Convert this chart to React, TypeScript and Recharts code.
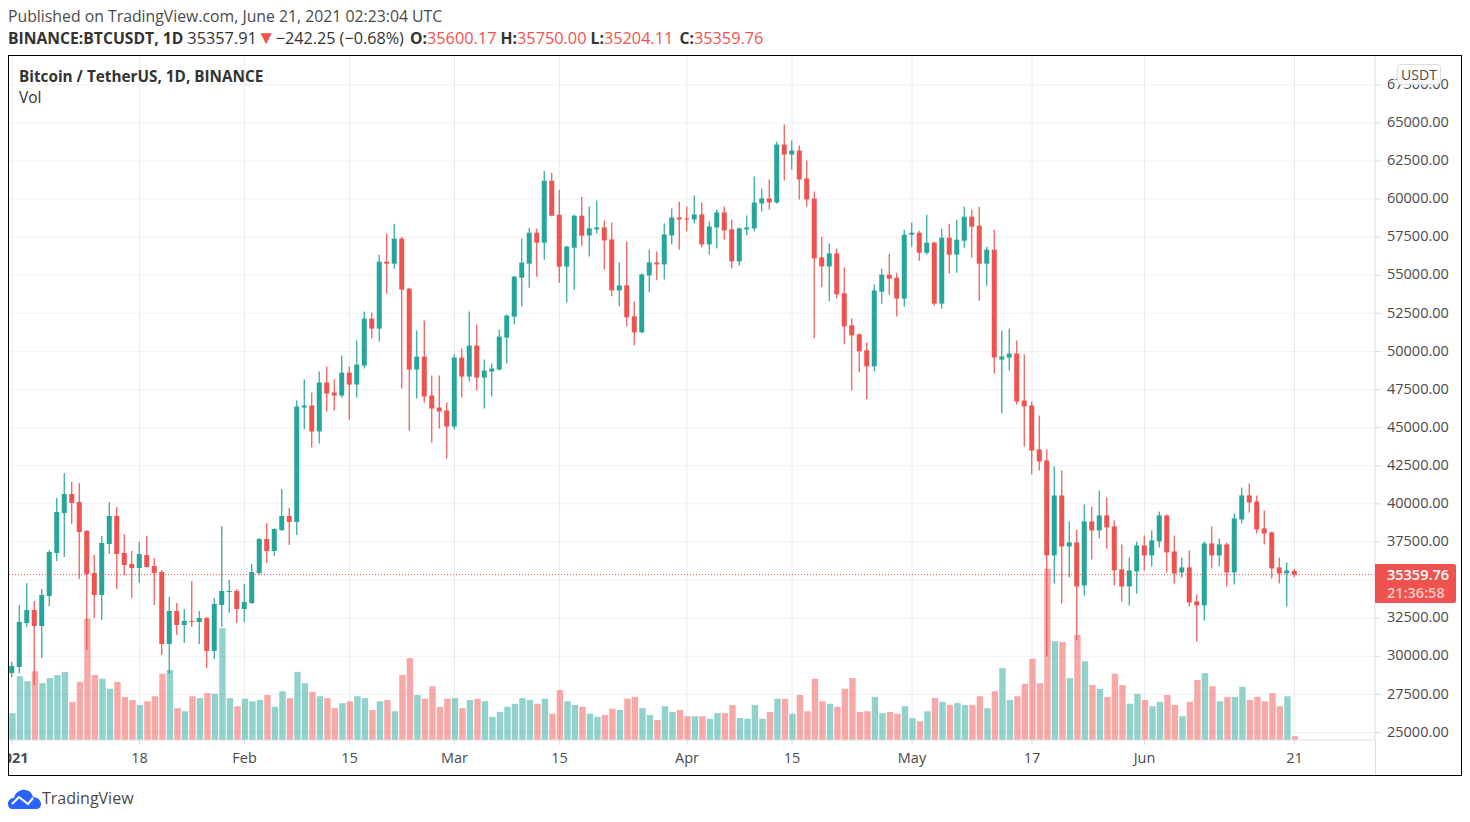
import React from 'react';
import { ComposedChart, Bar, Cell, XAxis, YAxis, CartesianGrid, ReferenceLine } from 'recharts';

const FONT = '"Open Sans", sans-serif';
const UP = '#26a69a';
const DOWN = '#ef5350';
const TEXT = '#4a4a4a';
const LAST_PRICE = 35359.76;

const opens = [
  28904, 29297, 32184, 33037, 31987, 33955, 36777, 39401, 40648, 40123,
  38220, 35465, 34021, 37367, 39204, 36777, 36055, 35793, 36645, 35924,
  35530, 30806, 32971, 32053, 32315, 32250, 32512, 30347, 33365, 34218,
  34284, 33102, 33496, 35465, 37695, 36908, 38286, 39204, 38811, 46322,
  46453, 44749, 47961, 47305, 47109, 48616, 47830, 49075, 52156, 51501,
  55892, 55761, 57400, 54122, 48813, 49665, 47109, 46322, 46126, 45077,
  49600, 48354, 50386, 48289, 48682, 48813, 50911, 52287, 54844, 55761,
  57793, 57138, 61202, 58973, 55565, 56810, 58908, 57614, 58008, 58139,
  57352, 54009, 54337, 52304, 51256, 54992, 55844, 55713, 57614, 58794,
  58728, 58663, 58991, 57024, 58139, 59122, 58008, 55910, 58008, 58073,
  59712, 60040, 59777, 63579, 62924, 63186, 61351, 60040, 56172, 55582,
  56434, 53812, 51715, 51125, 50076, 49027, 53925, 55040, 54843, 53467,
  57662, 57793, 56482, 57137, 53139, 57465, 56351, 57268, 58842, 58252,
  55761, 56678, 49468, 49599, 49861, 46780, 46453, 43569, 42850, 36617,
  40553, 37207, 37470, 34649, 38848, 38257, 39241, 38520, 35698, 34583,
  35567, 37273, 36617, 37535, 39241, 36879, 35502, 35830, 33599, 33336,
  37404, 36617, 37339, 35502, 38979, 40553, 40160, 38388, 38126, 35830,
  35436, 35600.17,
];

const highs = [
  29625, 33365, 34809, 33627, 34415, 36973, 40385, 42026, 41435, 41369,
  38286, 36645, 37892, 40123, 39795, 38023, 36908, 37498, 37892, 36448,
  35662, 33890, 33496, 33102, 34940, 32971, 32578, 33824, 38548, 35005,
  34415, 34743, 36055, 37750, 38745, 38400, 40976, 39729, 46781, 48158,
  47305, 48682, 49010, 48158, 49731, 49010, 50714, 52615, 52549, 56351,
  57728, 58383, 57531, 54188, 51369, 52025, 48420, 48420, 46650, 49796,
  50190, 52615, 51763, 49468, 49206, 51435, 52418, 54950, 57400, 58121,
  58056, 61858, 61726, 60612, 56941, 58973, 60153, 59515, 59909, 58598,
  58466, 55844, 57221, 53288, 55123, 56696, 56566, 58401, 59384, 59843,
  59515, 60236, 59777, 58532, 59319, 59515, 58663, 58139, 58925, 61482,
  60695, 61285, 63776, 64890, 63842, 63514, 62531, 60499, 57549, 57090,
  56762, 55517, 52174, 51190, 50600, 54402, 55433, 56416, 55171, 57990,
  58448, 57924, 58973, 57203, 58055, 58383, 58645, 59497, 59301, 59497,
  56875, 57990, 51369, 51500, 50713, 49796, 46715, 45797, 43571, 42456,
  42194, 38848, 38323, 39963, 39832, 40882, 40422, 38913, 37339, 36486,
  37535, 37929, 38257, 39504, 39307, 37929, 36486, 36945, 34058, 37535,
  38520, 37732, 37470, 39373, 41078, 41341, 40553, 39569, 38191, 36486,
  36158, 35750,
];

const lows = [
  28641, 28904, 31921, 28116, 29888, 33299, 36252, 36514, 38679, 35071,
  30412, 32512, 32381, 36711, 34415, 35333, 33824, 34809, 35800, 33365,
  30084, 28838, 31397, 30872, 31921, 30806, 29232, 29822, 31921, 32840,
  32184, 32250, 33431, 35333, 36120, 36580, 38220, 37302, 37958, 44880,
  43700, 43962, 46060, 46126, 46978, 45535, 46978, 48879, 50845, 50648,
  53795, 55434, 47568, 44814, 46912, 46650, 44028, 44946, 42979, 44880,
  46978, 48026, 47436, 46257, 47043, 48750, 49206, 51763, 52943, 54188,
  54909, 56024, 58850, 54516, 53205, 54057, 56941, 56238, 57745, 55386,
  53616, 52960, 51649, 50404, 51190, 53878, 54665, 54730, 57024, 56696,
  57876, 58401, 56828, 56369, 56762, 57352, 55451, 55648, 57614, 57876,
  59187, 59319, 59700, 61220, 61941, 59974, 59515, 50863, 54206, 53288,
  53485, 50469, 47454, 48634, 46864, 48699, 53139, 53729, 52287, 52942,
  56875, 55957, 56351, 53008, 52811, 55105, 55171, 56810, 56154, 53335,
  54319, 48550, 45928, 48747, 46519, 43765, 41930, 42192, 30000, 34780,
  33468, 35174, 31040, 33992, 36354, 37732, 37076, 34649, 33599, 33336,
  34124, 35633, 35895, 37142, 35502, 34780, 35174, 33271, 30974, 32352,
  35764, 35895, 34583, 34714, 38716, 39438, 38060, 37339, 35108, 34780,
  33271, 35204.11,
];

const closes = [
  29363, 32250, 33037, 31987, 34021, 36842, 39467, 40648, 40057, 38155,
  35399, 34021, 37433, 39204, 36711, 35989, 35793, 36711, 35858, 35465,
  30806, 32971, 32053, 32315, 32250, 32512, 30347, 33431, 34284, 34284,
  33102, 33562, 35530, 37695, 36908, 38351, 39204, 38811, 46388, 46453,
  44749, 47961, 47240, 47109, 48616, 47830, 49141, 52156, 51501, 55892,
  55761, 57400, 54057, 48813, 49665, 47043, 46257, 46060, 45077, 49600,
  48354, 50386, 48289, 48748, 48879, 50976, 52353, 54909, 55827, 57793,
  57138, 61202, 58908, 55565, 56876, 58908, 57597, 58073, 58139, 57287,
  54009, 54337, 52239, 51256, 55058, 55844, 55713, 57680, 58794, 58663,
  58663, 58991, 57024, 58204, 59122, 57942, 55910, 58073, 58139, 59777,
  60040, 59777, 63579, 62924, 63186, 61285, 59974, 56107, 55582, 56434,
  53747, 51649, 51059, 50011, 49027, 54009, 55040, 54778, 53467, 57662,
  57793, 56482, 57137, 53139, 57465, 56351, 57334, 58842, 58186, 55761,
  56678, 49599, 49665, 49861, 46715, 46387, 43503, 42782, 36617, 40553,
  37207, 37470, 34583, 38848, 38257, 39241, 38454, 35633, 34583, 35633,
  37273, 36617, 37601, 39241, 36814, 35436, 35830, 33533, 33336, 37404,
  36617, 37339, 35502, 39044, 40553, 40094, 38323, 38060, 35764, 35436,
  35633, 35359.76,
];

// thousands of BTC
const volumes = [
  43, 102, 94, 110, 91, 99, 104, 109, 61, 93,
  194, 104, 98, 82, 93, 69, 64, 56, 62, 70,
  106, 112, 51, 46, 70, 67, 75, 74, 179, 67,
  54, 66, 62, 64, 72, 53, 78, 67, 109, 91,
  77, 70, 67, 51, 59, 62, 70, 67, 48, 62,
  64, 46, 104, 131, 72, 66, 86, 53, 66, 67,
  51, 64, 66, 62, 37, 45, 53, 58, 67, 64,
  58, 66, 42, 80, 62, 56, 53, 42, 37, 40,
  50, 48, 66, 69, 51, 40, 32, 54, 45, 48,
  38, 38, 38, 34, 43, 43, 56, 35, 34, 56,
  34, 45, 66, 66, 42, 72, 46, 98, 62, 58,
  53, 82, 99, 45, 46, 69, 43, 45, 42, 54,
  35, 30, 46, 67, 61, 56, 59, 56, 56, 70,
  51, 78, 115, 64, 70, 90, 130, 91, 274, 158,
  157, 99, 168, 126, 88, 82, 69, 106, 88, 58,
  74, 64, 54, 61, 72, 56, 38, 61, 96, 107,
  86, 62, 69, 69, 85, 64, 69, 62, 75, 54,
  70, 6,
];

const tickDays = ['2021-01-01', '2021-01-18', '2021-02-01', '2021-02-15', '2021-03-01', '2021-03-15', '2021-04-01', '2021-04-15', '2021-05-01', '2021-05-17', '2021-06-01', '2021-06-21'];
const tickLabels = ['2021', '18', 'Feb', '15', 'Mar', '15', 'Apr', '15', 'May', '17', 'Jun', '21'];
const priceTicks = [25000, 27500, 30000, 32500, 35000, 37500, 40000, 42500, 45000, 47500, 50000, 52500, 55000, 57500, 60000, 62500, 65000, 67500];

// the time axis runs on past the last candle, up to the price scale
const DAYS_ON_AXIS = 182;
const days = Array.from({ length: DAYS_ON_AXIS }, (_, i) => new Date(Date.UTC(2021, 0, 1 + i)).toISOString().slice(0, 10));

const rows = days.map((day, i) => ({
  day,
  open: opens[i],
  high: highs[i],
  low: lows[i],
  close: closes[i],
  volume: volumes[i],
}));

const Candle = (props: any) => {
  const { x, y, width, height, payload } = props;
  if (payload.open === undefined) return null;
  const { open, high, low, close } = payload;
  const color = close >= open ? UP : DOWN;
  const pxPerPrice = Math.abs(height) / (high - low);
  const bodyTop = y + (high - Math.max(open, close)) * pxPerPrice;
  const bodyHeight = Math.max(Math.abs(open - close) * pxPerPrice, 1);
  const mid = x + width / 2;
  return (
    <g>
      <line x1={mid} x2={mid} y1={y} y2={y + Math.abs(height)} stroke={color} strokeWidth={1.2} />
      <rect x={x} y={bodyTop} width={width} height={bodyHeight} fill={color} />
    </g>
  );
};

const TimeTick = (props: any) => {
  const { x, y, payload } = props;
  const i = tickDays.indexOf(payload.value);
  return (
    <text x={x} y={y + 16} textAnchor="middle" fontSize={14.5} fontFamily={FONT} fill={TEXT} fontWeight={i === 0 ? 700 : 400}>
      {tickLabels[i]}
    </text>
  );
};

const Logo = () => (
  <svg width={33} height={20} viewBox="0 0 33 20" style={{ position: 'absolute', left: 8, top: 789 }}>
    <path d="M0 15 C0 11 3 9 6 9 C7 4 12 0 17 1 C21 1 24 4 25 8 C29 8 33 11 33 15 C33 18 31 20 28 20 L4 20 C2 20 0 18 0 15 Z" fill="#2962ff" />
    <path d="M4 15 L11 8 L20 15 L25 9" fill="none" stroke="#fff" strokeWidth={2} />
  </svg>
);

const Ohlc: React.FC<{ label: string; value: string; gap: number }> = ({ label, value, gap }) => (
  <>
    <b style={{ marginLeft: gap }}>{label}</b>
    <span style={{ color: DOWN, fontSize: 16.3 }}>{value}</span>{' '}
  </>
);

const App: React.FC = () => (
  <div style={{ position: 'absolute', left: 0, top: 0, width: 1470, height: 822, background: '#fff', fontFamily: FONT, overflow: 'hidden' }}>
    <div style={{ position: 'absolute', left: 8, top: 6, fontSize: 15.8, lineHeight: '20px', color: TEXT, whiteSpace: 'nowrap' }}>
      Published on TradingView.com, June 21, 2021 02:23:04 UTC
    </div>
    <div style={{ position: 'absolute', left: 8, top: 28, fontSize: 15.7, lineHeight: '20px', color: '#333', whiteSpace: 'nowrap' }}>
      <b>BINANCE:BTCUSDT, 1D</b> <span style={{ fontSize: 16.3 }}>35357.91</span>
      <span style={{ color: DOWN, fontSize: 19, lineHeight: 0 }}>▼</span>
      <span style={{ fontSize: 16.2 }}>−242.25 (−0.68%) </span>
      <Ohlc label="O:" value="35600.17" gap={2} />
      <Ohlc label="H:" value="35750.00" gap={0} />
      <Ohlc label="L:" value="35204.11" gap={0} />
      <Ohlc label="C:" value="35359.76" gap={2} />
    </div>

    <div style={{ position: 'absolute', left: 0, top: 0 }}>
      <ComposedChart width={1470} height={822} data={rows} margin={{ top: 56, right: 0, bottom: 0, left: 8.25 }}>
        <CartesianGrid xAxisId="main" yAxisId="price" horizontal={false} stroke="#ebecef" syncWithTicks />
        <CartesianGrid xAxisId="main" yAxisId="price" vertical={false} stroke="#f0f1f3" syncWithTicks />
        <XAxis
          xAxisId="main"
          dataKey="day"
          ticks={tickDays}
          interval={0}
          padding={{ left: 0, right: 1.75 }}
          tick={<TimeTick />}
          tickSize={5}
          stroke="#dcdde0"
          strokeWidth={1}
          height={82}
        />
        <XAxis xAxisId="vol" dataKey="day" hide padding={{ left: 0, right: 1.75 }} />
        <YAxis
          yAxisId="price"
          orientation="right"
          domain={[24505, 69388]}
          allowDataOverflow
          ticks={priceTicks}
          interval={0}
          tickFormatter={(v: number) => v.toFixed(2)}
          tick={{ fontSize: 14.5, fontFamily: FONT, fill: TEXT, dy: -1 }}
          tickSize={6}
          tickMargin={6}
          stroke="#dcdde0"
          width={95}
        />
        <YAxis yAxisId="vol" hide domain={[0, 1094.4]} />
        <Bar xAxisId="vol" yAxisId="vol" dataKey="volume" barSize={6.4} fillOpacity={0.5} isAnimationActive={false}>
          {rows.map((r) => (
            <Cell key={r.day} fill={r.close >= r.open ? UP : DOWN} />
          ))}
        </Bar>
        <ReferenceLine xAxisId="main" yAxisId="price" y={LAST_PRICE} stroke={DOWN} strokeDasharray="1 2" />
        <Bar
          xAxisId="main"
          yAxisId="price"
          dataKey={(r: any) => (r.open === undefined ? null : [r.low, r.high])}
          barSize={5}
          shape={<Candle />}
          isAnimationActive={false}
        />
      </ComposedChart>
    </div>

    {/* price scale line carries on through the time axis */}
    <div style={{ position: 'absolute', left: 1375, top: 740, width: 1, height: 35, background: '#dcdde0' }} />
    {/* the year label is cut off by the frame */}
    <div style={{ position: 'absolute', left: 0, top: 745, width: 8, height: 30, background: '#fff' }} />

    <div style={{ position: 'absolute', left: 19, top: 66, fontSize: 15.3, lineHeight: '20px', fontWeight: 700, color: '#333' }}>
      Bitcoin / TetherUS, 1D, BINANCE
    </div>
    <div style={{ position: 'absolute', left: 19, top: 87, fontSize: 15.5, lineHeight: '20px', color: '#333' }}>Vol</div>

    <div style={{ position: 'absolute', left: 1397, top: 64, width: 42, height: 19, border: '1px solid #d9dce3', borderRadius: 4, background: 'rgba(255,255,255,0.9)', fontSize: 14, lineHeight: '19px', textAlign: 'center', color: TEXT }}>
      USDT
    </div>

    <div style={{ position: 'absolute', left: 1375, top: 564, width: 81, height: 39, background: DOWN, borderRadius: '0 2px 2px 0', fontSize: 14.5, lineHeight: '18px', fontWeight: 600, color: '#fff' }}>
      <div style={{ marginLeft: 12, marginTop: 2 }}>{LAST_PRICE.toFixed(2)}</div>
      <div style={{ marginLeft: 12, color: 'rgba(255,255,255,0.7)' }}>21:36:58</div>
    </div>

    <div style={{ position: 'absolute', left: 8, top: 55, width: 1452, height: 719, border: '1px solid #000', pointerEvents: 'none' }} />

    <Logo />
    <div style={{ position: 'absolute', left: 42, top: 788, fontSize: 16, lineHeight: '20px', color: TEXT }}>TradingView</div>
  </div>
);

export default App;
